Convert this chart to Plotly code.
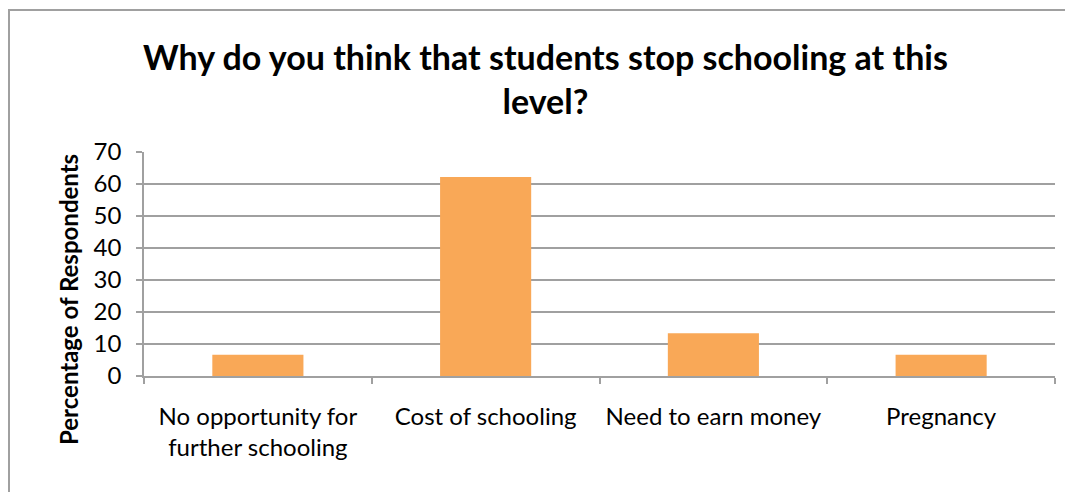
import plotly.graph_objects as go

categories = ["No opportunity for<br>further schooling", "Cost of schooling", "Need to earn money", "Pregnancy"]
values = [6.67, 62.22, 13.33, 6.67]
y_ticks = [0, 10, 20, 30, 40, 50, 60, 70]

OFF = 8  # page body margin
W, H = 1073 - OFF, 492 - OFF
L, R, T, B = 144 - OFF, 18, 152 - OFF, 116
pw = W - L - R
ph = H - T - B

def px(x):
    return (x - OFF - L) / pw

def py(y):
    return (H - B - (y - OFF)) / ph

FONT = "Lato, 'Liberation Sans', sans-serif"

fig = go.Figure(go.Bar(x=categories, y=values, marker=dict(color="#F9A857", line=dict(width=0)),
                       width=0.4, hoverinfo="x+y"))

fig.update_layout(
    width=W, height=H,
    margin=dict(l=L, r=R, t=T, b=B),
    paper_bgcolor="white", plot_bgcolor="white",
    showlegend=False,
    font=dict(family=FONT, color="black"),
    xaxis=dict(showline=True, linecolor="#A0A0A0", linewidth=1.5,
               ticks="outside", tickson="boundaries", ticklen=6, tickcolor="#A0A0A0", tickwidth=1.5,
               ticklabelstandoff=18,
               tickfont=dict(size=24, family=FONT, color="black"), showgrid=False),
    yaxis=dict(range=[0, 70], tickvals=y_ticks, showline=True, linecolor="#A0A0A0", linewidth=1.5,
               ticks="outside", ticklen=6, tickcolor="#A0A0A0", tickwidth=1.5,
               ticklabelstandoff=10,
               gridcolor="#A0A0A0", gridwidth=1.5, zeroline=False,
               tickfont=dict(size=24, family=FONT, color="black")),
)

fig.add_annotation(text="<b>Why do you think that students stop schooling at this<br>level?</b>",
                   xref="paper", yref="paper", x=px(545), y=py(78), xanchor="center", yanchor="middle",
                   showarrow=False, font=dict(size=34, family=FONT, color="black"))
fig.add_annotation(text="<b>Percentage of Respondents</b>", textangle=-90,
                   xref="paper", yref="paper", x=px(68), y=py(300), xanchor="center", yanchor="middle",
                   showarrow=False, font=dict(size=24, family=FONT, color="black"))

fig.add_shape(type="line", xref="paper", yref="paper", x0=px(9), x1=px(9), y0=py(9), y1=py(500),
              line=dict(color="#A0A0A0", width=2))
fig.add_shape(type="line", xref="paper", yref="paper", x0=px(8), x1=px(1080), y0=py(10), y1=py(10),
              line=dict(color="#A0A0A0", width=2))

fig.write_html("out.html")
